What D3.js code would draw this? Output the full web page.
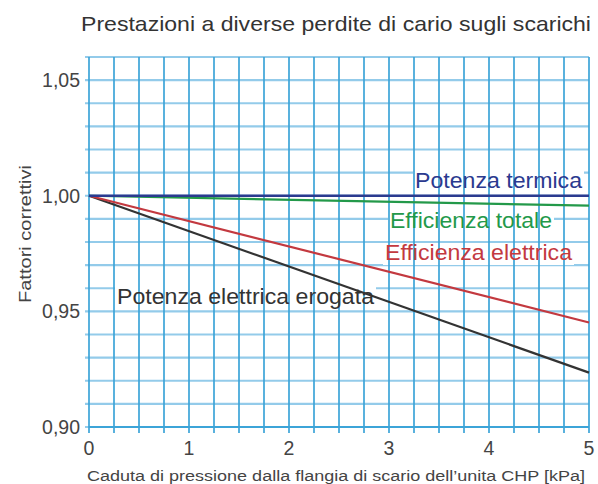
<!DOCTYPE html>
<html>
<head>
<meta charset="utf-8">
<script src="https://cdn.jsdelivr.net/npm/d3@7"></script>
<style>
  body { margin: 0; background: #fff; }
  svg { display: block; font-family: "Liberation Sans", Arial, sans-serif; }
</style>
</head>
<body>
<div id="chart"></div>
<script>

// data
var xValues = [0, 5];
var potenzaTermica = [1.000, 1.000];
var efficienzaTotale = [1.000, 0.9957];
var efficienzaElettrica = [1.000, 0.9452];
var potenzaElettrica = [1.000, 0.9235];

var xTicks = [0, 1, 2, 3, 4, 5];
var yTicks = [0.90, 0.95, 1.00, 1.05];
var yTickLabels = ["0,90", "0,95", "1,00", "1,05"];

var series = [
    {name: "Potenza termica", values: potenzaTermica, color: "#2b3a8f", width: 2.6,
     lx: 415, ly: 188, lw: 167},
    {name: "Efficienza totale", values: efficienzaTotale, color: "#23994a", width: 2.2,
     lx: 390, ly: 228, lw: 162},
    {name: "Efficienza elettrica", values: efficienzaElettrica, color: "#c3393f", width: 2.2,
     lx: 385, ly: 260, lw: 187},
    {name: "Potenza elettrica erogata", values: potenzaElettrica, color: "#333333", width: 2.2,
     lx: 117, ly: 304, lw: 257}
];

function drawChart(containerId){

    var width = 598, height = 484;
    var margin = ({top: 57, right: 9, bottom: 57, left: 89});

    var svg = d3.select('#' + containerId).append("svg")
        .attr("width", width)
        .attr("height", height);

    var x = d3.scaleLinear()
        .domain([0, 5])
        .range([margin.left, width - margin.right]);

    var y = d3.scaleLinear()
        .domain([0.90, 1.06])
        .range([height - margin.bottom, margin.top]);

    // horizontal grid, every 0.01
    var hLines = d3.range(0, 17).map(i => 0.90 + i * 0.01);
    svg.append("g")
        .selectAll("line")
        .data(hLines)
        .join("line")
        .attr("x1", x(0) - 4)
        .attr("x2", x(5))
        .attr("y1", d => y(d))
        .attr("y2", d => y(d))
        .style("stroke", "#93cbea")
        .style("stroke-width", 2.2);

    // white boxes behind the labels
    svg.append("g")
        .selectAll("rect")
        .data(series)
        .join("rect")
        .attr("x", d => d.lx - 2)
        .attr("y", d => d.ly - 17)
        .attr("width", d => d.lw + 4)
        .attr("height", 22)
        .style("fill", "#fff");

    // vertical grid, every 0.25
    var vLines = d3.range(0, 21).map(i => i * 0.25);
    svg.append("g")
        .selectAll("line")
        .data(vLines)
        .join("line")
        .attr("x1", d => x(d))
        .attr("x2", d => x(d))
        .attr("y1", y(1.06))
        .attr("y2", y(0.90) + 6)
        .style("stroke", "#3ca4d8")
        .style("stroke-width", 1.7);

    // bottom axis line
    svg.append("line")
        .attr("x1", x(0))
        .attr("x2", x(5))
        .attr("y1", y(0.90))
        .attr("y2", y(0.90))
        .style("stroke", "#3ca4d8")
        .style("stroke-width", 2);

    var line = d3.line()
        .x((d, i) => x(xValues[i]))
        .y(d => y(d));

    series.slice().reverse().forEach(function(s) {
        svg.append("path")
            .attr("fill", "none")
            .attr("stroke", s.color)
            .attr("stroke-width", s.width)
            .attr("d", line(s.values));
    });

    // line labels
    svg.append("g")
        .selectAll("text")
        .data(series)
        .join("text")
        .attr("x", d => d.lx)
        .attr("y", d => d.ly)
        .attr("textLength", d => d.lw)
        .attr("lengthAdjust", "spacingAndGlyphs")
        .style("font-size", "22.5px")
        .style("fill", d => d.color)
        .text(d => d.name);

    // y tick labels
    svg.append("g")
        .selectAll("text")
        .data(yTicks)
        .join("text")
        .attr("x", 80)
        .attr("y", d => y(d) + 7)
        .attr("text-anchor", "end")
        .style("font-size", "19.5px")
        .style("fill", "#444")
        .text((d, i) => yTickLabels[i]);

    // x tick labels
    svg.append("g")
        .selectAll("text")
        .data(xTicks)
        .join("text")
        .attr("x", d => x(d))
        .attr("y", 455)
        .attr("text-anchor", "middle")
        .style("font-size", "19.5px")
        .style("fill", "#444")
        .text(d => d);

    // title
    svg.append("text")
        .attr("x", 81)
        .attr("y", 31)
        .attr("textLength", 510)
        .attr("lengthAdjust", "spacingAndGlyphs")
        .style("font-size", "21px")
        .style("fill", "#333")
        .text("Prestazioni a diverse perdite di cario sugli scarichi");

    // x axis title
    svg.append("text")
        .attr("x", 87)
        .attr("y", 481)
        .attr("textLength", 498)
        .attr("lengthAdjust", "spacingAndGlyphs")
        .style("font-size", "15.5px")
        .style("fill", "#444")
        .text("Caduta di pressione dalla flangia di scario dell\u2019unita CHP [kPa]");

    // y axis title
    svg.append("text")
        .attr("transform", "translate(31,234) rotate(-90)")
        .attr("text-anchor", "middle")
        .attr("textLength", 138)
        .attr("lengthAdjust", "spacingAndGlyphs")
        .style("font-size", "17px")
        .style("fill", "#444")
        .text("Fattori correttivi");
}

drawChart('chart');

</script>
</body>
</html>
